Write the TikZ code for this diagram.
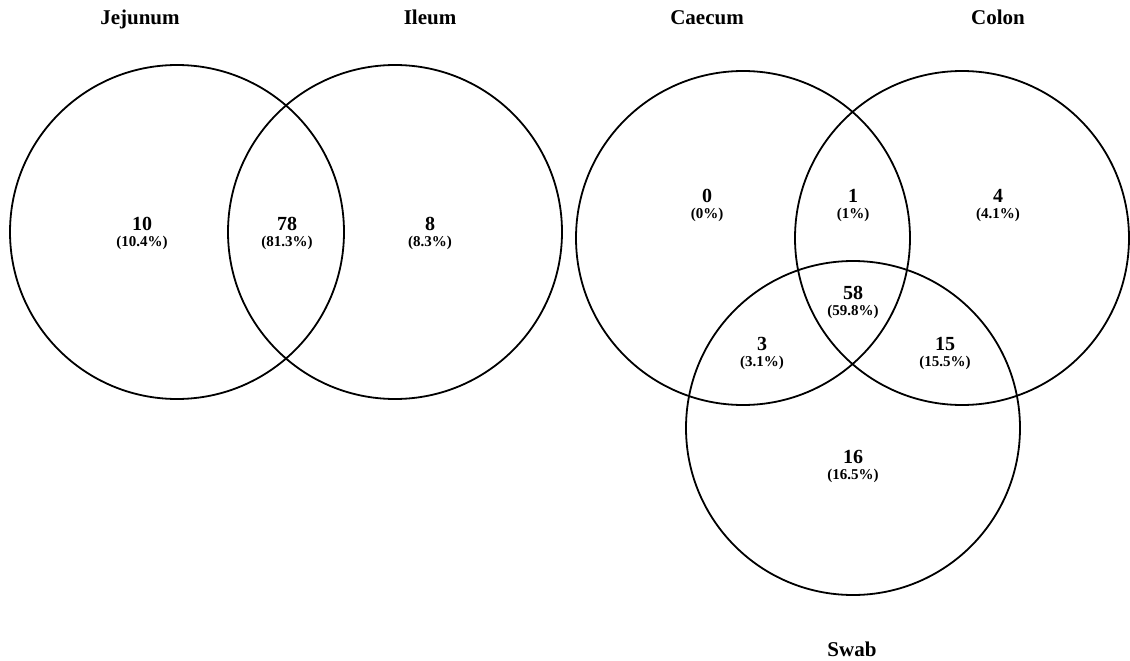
\documentclass[tikz,border=0pt]{standalone}
\usepackage{fontspec}
\setmainfont{Liberation Serif}
\begin{document}
\begin{tikzpicture}[x=1pt,y=-1pt,
    setline/.style={line width=1.8pt},
    title/.style={font=\bfseries\fontsize{21}{21}\selectfont,anchor=base,inner sep=0pt},
    num/.style={font=\bfseries\fontsize{20}{20}\selectfont,anchor=base,inner sep=0pt},
    pct/.style={font=\bfseries\fontsize{15}{15}\selectfont,anchor=base,inner sep=0pt}]
    \useasboundingbox (0,0) rectangle (1130,661);
    % two-set diagram
    \coordinate (jej) at (177,232);
    \coordinate (ile) at (395,232);
    \draw[setline] (jej) circle[radius=167];
    \draw[setline] (ile) circle[radius=167];
    \node[title] (tjej) at (140,25) {Jejunum};
    \node[title] (tile) at (430,25) {Ileum};
    \node[num] (n10) at (142,230) {10};
    \node[pct] (p10) at (142,246) {(10.4\%)};
    \node[num] (n78) at (287,230) {78};
    \node[pct] (p78) at (287,246) {(81.3\%)};
    \node[num] (n8) at (430,230) {8};
    \node[pct] (p8) at (430,246) {(8.3\%)};
    % three-set diagram
    \coordinate (cae) at (743,238);
    \coordinate (col) at (962,238);
    \coordinate (swa) at (853,428);
    \draw[setline] (cae) circle[radius=167];
    \draw[setline] (col) circle[radius=167];
    \draw[setline] (swa) circle[radius=167];
    \node[title] (tcae) at (707,25) {Caecum};
    \node[title] (tcol) at (998,25) {Colon};
    \node[title] (tswa) at (852,656) {Swab};
    \node[num] (n0) at (707,202) {0};
    \node[pct] (p0) at (707,218) {(0\%)};
    \node[num] (n1) at (853,202) {1};
    \node[pct] (p1) at (853,218) {(1\%)};
    \node[num] (n4) at (998,202) {4};
    \node[pct] (p4) at (998,218) {(4.1\%)};
    \node[num] (n58) at (853,299) {58};
    \node[pct] (p58) at (853,315) {(59.8\%)};
    \node[num] (n3) at (762,350) {3};
    \node[pct] (p3) at (762,366) {(3.1\%)};
    \node[num] (n15) at (945,350) {15};
    \node[pct] (p15) at (945,366) {(15.5\%)};
    \node[num] (n16) at (853,463) {16};
    \node[pct] (p16) at (853,479) {(16.5\%)};
\end{tikzpicture}
\end{document}
